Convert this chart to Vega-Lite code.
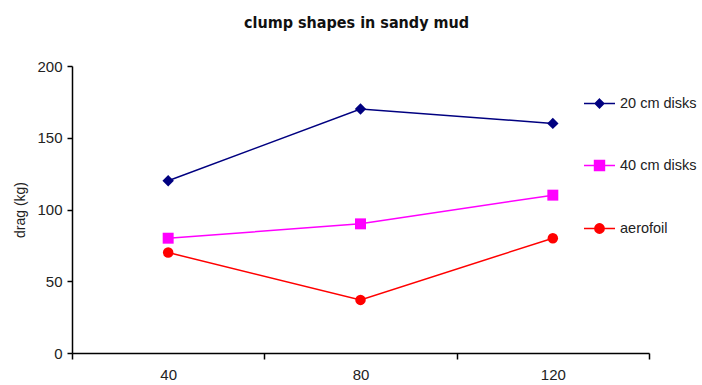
{
  "$schema": "https://vega.github.io/schema/vega-lite/v6.json",
  "width": 577,
  "height": 287,
  "autosize": {"type": "none"},
  "padding": {"left": 72, "top": 66, "right": 53, "bottom": 32},
  "background": "white",
  "title": {
    "text": "clump shapes in sandy mud",
    "font": "Liberation Sans Narrow, DejaVu Sans Condensed, sans-serif",
    "fontSize": 16,
    "fontWeight": "bold",
    "color": "#111111",
    "anchor": "middle",
    "offset": 28,
    "dx": -4
  },
  "data": {
    "values": [
      {"series": "20 cm disks", "x": 40, "drag": 120},
      {"series": "20 cm disks", "x": 80, "drag": 170},
      {"series": "20 cm disks", "x": 120, "drag": 160},
      {"series": "40 cm disks", "x": 40, "drag": 80},
      {"series": "40 cm disks", "x": 80, "drag": 90},
      {"series": "40 cm disks", "x": 120, "drag": 110},
      {"series": "aerofoil", "x": 40, "drag": 70},
      {"series": "aerofoil", "x": 80, "drag": 37},
      {"series": "aerofoil", "x": 120, "drag": 80}
    ]
  },
  "encoding": {
    "x": {
      "field": "x",
      "type": "quantitative",
      "scale": {"domain": [20, 140], "nice": false, "zero": false},
      "axis": {
        "values": [20, 40, 60, 80, 100, 120, 140],
        "title": null,
        "grid": false,
        "domainColor": "#000000",
        "domainWidth": 1.5,
        "tickColor": "#000000",
        "tickWidth": 1.5,
        "tickSize": 6,
        "tickOpacity": {"condition": {"test": "datum.value % 40 == 20", "value": 1}, "value": 0},
        "labelExpr": "datum.value % 40 == 0 ? datum.label : ''",
        "labelFont": "Liberation Sans, Arial, sans-serif",
        "labelFontSize": 15,
        "labelColor": "#222222",
        "labelPadding": 8,
        "labelFlush": false,
        "labelBound": false,
        "labelOverlap": false
      }
    },
    "y": {
      "field": "drag",
      "type": "quantitative",
      "scale": {"domain": [0, 200], "nice": false},
      "axis": {
        "values": [0, 50, 100, 150, 200],
        "title": "drag (kg)",
        "titleFont": "Liberation Sans, Arial, sans-serif",
        "titleFontSize": 14,
        "titleFontWeight": "normal",
        "titleColor": "#222222",
        "titlePadding": 9,
        "grid": false,
        "domainColor": "#000000",
        "domainWidth": 1.5,
        "tickColor": "#000000",
        "tickWidth": 1.5,
        "tickSize": 5,
        "labelFont": "Liberation Sans, Arial, sans-serif",
        "labelFontSize": 15,
        "labelColor": "#222222",
        "labelPadding": 5,
        "labelFlush": false,
        "labelBound": false
      }
    }
  },
  "layer": [
    {
      "mark": {"type": "line", "strokeWidth": 1.5},
      "encoding": {
        "color": {
          "field": "series",
          "type": "nominal",
          "scale": {"domain": ["20 cm disks", "40 cm disks", "aerofoil"], "range": ["#000080", "#FF00FF", "#FF0000"]},
          "legend": {"orient": "none", "legendX": 511, "legendY": 21, "title": null, "padding": 0, "rowPadding": 38, "labelFont": "Liberation Sans, Arial, sans-serif", "labelFontSize": 14.5, "labelColor": "#222222", "labelOffset": 4, "symbolSize": 961, "symbolStrokeWidth": 1.5, "symbolOpacity": 1}
        }
      }
    },
    {
      "transform": [{"filter": "datum.series === '20 cm disks'"}],
      "mark": {"type": "point", "filled": true, "opacity": 1, "size": 130, "shape": "diamond", "color": "#000080"}
    },
    {
      "transform": [{"filter": "datum.series === '40 cm disks'"}],
      "mark": {"type": "point", "filled": true, "opacity": 1, "size": 120, "shape": "square", "color": "#FF00FF"}
    },
    {
      "transform": [{"filter": "datum.series === 'aerofoil'"}],
      "mark": {"type": "point", "filled": true, "opacity": 1, "size": 110, "shape": "circle", "color": "#FF0000"}
    },
    {
      "transform": [{"filter": "false"}],
      "mark": {"type": "point", "filled": true, "opacity": 1, "strokeWidth": 1.5},
      "encoding": {
        "fill": {
          "field": "series",
          "type": "nominal",
          "scale": {"domain": ["20 cm disks", "40 cm disks", "aerofoil"], "range": ["#000080", "#FF00FF", "#FF0000"]},
          "legend": {"orient": "none", "legendX": 511, "legendY": 21, "title": null, "padding": 0, "rowPadding": 38, "labelFont": "Liberation Sans, Arial, sans-serif", "labelFontSize": 14.5, "labelColor": "#222222", "labelOffset": 4, "symbolSize": 961, "symbolStrokeWidth": 1.5, "symbolOpacity": 1}
        },
        "stroke": {
          "field": "series",
          "type": "nominal",
          "scale": {"domain": ["20 cm disks", "40 cm disks", "aerofoil"], "range": ["#000080", "#FF00FF", "#FF0000"]},
          "legend": {"orient": "none", "legendX": 511, "legendY": 21, "title": null, "padding": 0, "rowPadding": 38, "labelFont": "Liberation Sans, Arial, sans-serif", "labelFontSize": 14.5, "labelColor": "#222222", "labelOffset": 4, "symbolSize": 961, "symbolStrokeWidth": 1.5, "symbolOpacity": 1}
        },
        "shape": {
          "field": "series",
          "type": "nominal",
          "scale": {
            "domain": ["20 cm disks", "40 cm disks", "aerofoil"],
            "range": [
              "M-1,0H1M0,-0.28L0.28,0L0,0.28L-0.28,0Z",
              "M-1,0H1M-0.32,-0.32H0.32V0.32H-0.32Z",
              "M-1,0H1M-0.3,0A0.3,0.3,0,1,0,0.3,0A0.3,0.3,0,1,0,-0.3,0Z"
            ]
          },
          "legend": {"orient": "none", "legendX": 511, "legendY": 21, "title": null, "padding": 0, "rowPadding": 38, "labelFont": "Liberation Sans, Arial, sans-serif", "labelFontSize": 14.5, "labelColor": "#222222", "labelOffset": 4, "symbolSize": 961, "symbolStrokeWidth": 1.5, "symbolOpacity": 1}
        }
      }
    }
  ],
  "config": {"view": {"stroke": null}}
}
